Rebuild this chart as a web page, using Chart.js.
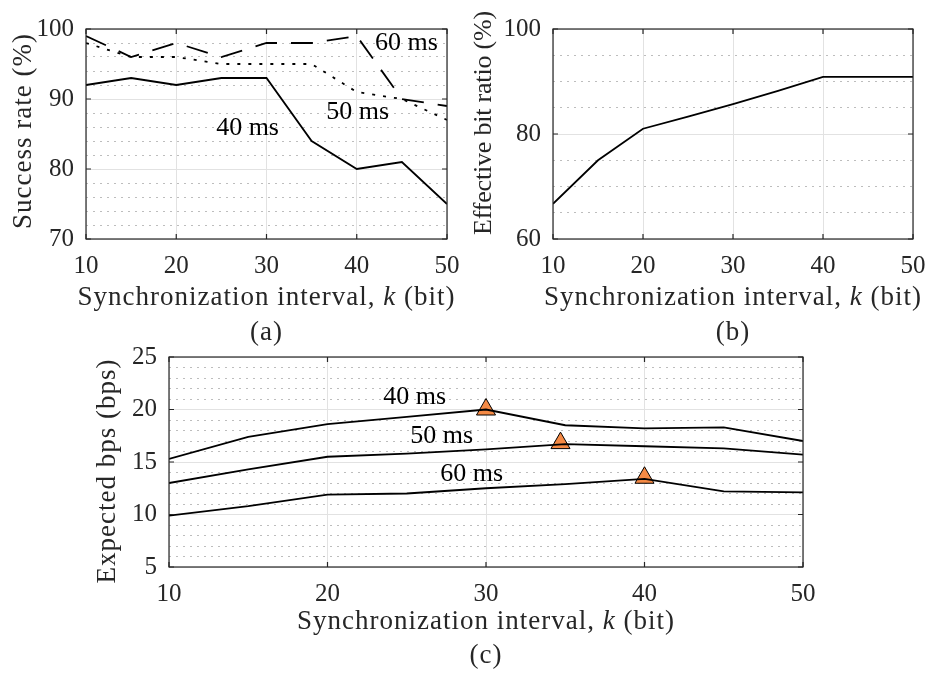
<!DOCTYPE html>
<html>
<head>
<meta charset="utf-8">
<script src="https://cdn.jsdelivr.net/npm/chart.js@4.4.0/dist/chart.umd.min.js"></script>
<style>
  html, body { margin: 0; padding: 0; background: #fff; }
  #wrap { position: relative; width: 930px; height: 675px; overflow: hidden; }
  canvas { position: absolute; }
</style>
</head>
<body>
<div id="wrap">
  <canvas id="chartC" style="left:0;top:330px;width:930px;height:345px" width="930" height="345"></canvas>
  <canvas id="chartA" style="left:0;top:0;width:475px;height:360px" width="475" height="360"></canvas>
  <canvas id="chartB" style="left:465px;top:0;width:480px;height:360px" width="480" height="360"></canvas>
</div>
<script>
// synchronization interval k (bit)
const kValues = [10, 15, 20, 25, 30, 35, 40, 45, 50];
const xTicks = [10, 20, 30, 40, 50];

// (a) success rate (%)
const success40 = [92, 93, 92, 93, 93, 84, 80, 81, 75];
const success50 = [98, 96, 96, 95, 95, 95, 91, 90, 87];
const success60 = [99, 96, 98, 96, 98, 98, 99, 90, 89];
const yTicksA = [70, 80, 90, 100];

// (b) effective bit ratio (%)
const bitRatio = [66.7, 75, 81, 83.3, 85.7, 88.2, 90.9, 90.9, 90.9];
const yTicksB = [60, 80, 100];

// (c) expected bps
const bps40 = [15.3, 17.4, 18.6, 19.3, 20.0, 18.5, 18.2, 18.3, 17.0];
const bps50 = [13.0, 14.3, 15.5, 15.8, 16.2, 16.7, 16.5, 16.3, 15.7];
const bps60 = [9.9, 10.8, 11.9, 12.0, 12.5, 12.9, 13.4, 12.2, 12.1];
const yTicksC = [5, 10, 15, 20, 25];

// best point of each curve (orange triangles)
const peakK = [30, 34.7, 40];
const peakBps = [20.0, 16.8, 13.5];

// curve names written next to the lines
const curveNames = ['40 ms', '50 ms', '60 ms'];
const nameKA = [27.9, 40.1, 45.5];
const nameValA = [85.9, 88.1, 98.0];
const nameKC = [25.5, 27.2, 29.1];
const nameValC = [21.2, 17.5, 13.8];

const FONT = '"Liberation Serif", "Times New Roman", serif';
const INK = '#262626';

const pts = ys => ys.map((y, i) => ({ x: kValues[i], y: y }));
const onStep = (v, step) => v != null && Math.abs(v / step - Math.round(v / step)) < 1e-6;

// frame, inward ticks, curve names and axis titles (MATLAB look)
function makeDecor(cfg) {
  return {
    id: 'decor',
    afterDraw(chart) {
      const { ctx, chartArea: area, scales: { x, y } } = chart;
      ctx.save();
      ctx.strokeStyle = INK;
      ctx.lineWidth = 1.2;
      ctx.strokeRect(area.left, area.top, area.width, area.height);
      ctx.beginPath();
      xTicks.forEach(v => {
        const px = x.getPixelForValue(v);
        ctx.moveTo(px, area.bottom); ctx.lineTo(px, area.bottom - 5);
        ctx.moveTo(px, area.top); ctx.lineTo(px, area.top + 5);
      });
      cfg.yTicks.forEach(v => {
        const py = y.getPixelForValue(v);
        ctx.moveTo(area.left, py); ctx.lineTo(area.left + 5, py);
        ctx.moveTo(area.right, py); ctx.lineTo(area.right - 5, py);
      });
      ctx.stroke();

      ctx.fillStyle = '#000';
      ctx.font = '26px ' + FONT;
      ctx.textAlign = 'center';
      ctx.textBaseline = 'middle';
      (cfg.names || []).forEach((n, i) => {
        ctx.fillText(n, x.getPixelForValue(cfg.nameK[i]), y.getPixelForValue(cfg.nameVal[i]));
      });

      // x title with italic k
      ctx.fillStyle = INK;
      ctx.letterSpacing = '1px';
      const parts = [['Synchronization interval, ', ''], ['k', 'italic '], [' (bit)', '']];
      let total = 0;
      parts.forEach(p => { ctx.font = p[1] + '27px ' + FONT; total += ctx.measureText(p[0]).width; });
      let cx = (area.left + area.right) / 2 - total / 2;
      const ty = area.bottom + cfg.titleGap;
      ctx.textAlign = 'left';
      parts.forEach(p => {
        ctx.font = p[1] + '27px ' + FONT;
        ctx.fillText(p[0], cx, ty);
        cx += ctx.measureText(p[0]).width;
      });
      ctx.font = '27px ' + FONT;
      ctx.textAlign = 'center';
      ctx.fillText(cfg.caption, (area.left + area.right) / 2, area.bottom + cfg.captionGap);

      // y title
      ctx.font = cfg.yTitleSize + 'px ' + FONT;
      ctx.letterSpacing = cfg.yTitleSpacing + 'px';
      ctx.translate(cfg.yTitleX, cfg.yTitleY);
      ctx.rotate(-Math.PI / 2);
      ctx.fillText(cfg.yTitle, 0, 0);
      ctx.restore();
    }
  };
}

function makeOptions(cfg) {
  return {
    responsive: false,
    animation: false,
    devicePixelRatio: 1,
    layout: { padding: { top: cfg.padTop, right: cfg.padRight, left: 0, bottom: 0 } },
    elements: { point: { radius: 0 }, line: { tension: 0, borderColor: '#000', borderWidth: 1.8 } },
    plugins: { legend: { display: false }, tooltip: { enabled: false } },
    scales: {
      x: {
        type: 'linear', min: 10, max: 50,
        afterFit: s => { s.height = cfg.xHeight; },
        ticks: { stepSize: 10, autoSkip: false, maxRotation: 0, padding: 12, color: INK, font: { family: FONT, size: 25 } },
        grid: { drawTicks: false, color: '#e2e2e2', lineWidth: 1 },
        border: { display: false }
      },
      y: {
        type: 'linear', min: cfg.yMin, max: cfg.yMax,
        afterFit: s => { s.width = cfg.yWidth; },
        ticks: {
          stepSize: cfg.minor, autoSkip: false, padding: 12, color: INK,
          font: { family: FONT, size: 25 },
          callback: v => onStep(v, cfg.major) ? v : ''
        },
        grid: {
          drawTicks: false, lineWidth: 1,
          color: c => onStep(c.tick && c.tick.value, cfg.major) ? '#e2e2e2' : '#bdbdbd'
        },
        border: {
          display: false,
          dash: c => (c.tick && !onStep(c.tick.value, cfg.major)) ? [2, 5] : []
        }
      }
    }
  };
}

new Chart(document.getElementById('chartA'), {
  type: 'line',
  data: {
    datasets: [
      { data: pts(success40) },
      { data: pts(success50), borderDash: [3, 8] },
      { data: pts(success60), borderDash: [22, 14] }
    ]
  },
  options: makeOptions({ padTop: 29, padRight: 28, xHeight: 121, yWidth: 86, yMin: 70, yMax: 100, minor: 2, major: 10 }),
  plugins: [makeDecor({
    yTicks: yTicksA, names: curveNames, nameK: nameKA, nameVal: nameValA,
    caption: '(a)', titleGap: 59, captionGap: 94,
    yTitle: 'Success rate (%)', yTitleX: 24, yTitleY: 131, yTitleSize: 27, yTitleSpacing: 1
  })]
});

new Chart(document.getElementById('chartB'), {
  type: 'line',
  data: { datasets: [{ data: pts(bitRatio) }] },
  options: makeOptions({ padTop: 29, padRight: 32, xHeight: 121, yWidth: 88, yMin: 60, yMax: 100, minor: 5, major: 20 }),
  plugins: [makeDecor({
    yTicks: yTicksB,
    caption: '(b)', titleGap: 59, captionGap: 94,
    yTitle: 'Effective bit ratio (%)', yTitleX: 19, yTitleY: 123, yTitleSize: 26, yTitleSpacing: -0.2
  })]
});

new Chart(document.getElementById('chartC'), {
  type: 'line',
  data: {
    datasets: [
      { data: pts(bps40) },
      { data: pts(bps50) },
      { data: pts(bps60) },
      {
        data: peakK.map((k, i) => ({ x: k, y: peakBps[i] })),
        showLine: false, pointStyle: 'triangle', pointRadius: 11,
        pointBackgroundColor: '#F58A45', pointBorderColor: '#000', pointBorderWidth: 1
      }
    ]
  },
  options: makeOptions({ padTop: 27, padRight: 127, xHeight: 108, yWidth: 169, yMin: 5, yMax: 25, minor: 1, major: 5 }),
  plugins: [makeDecor({
    yTicks: yTicksC, names: curveNames, nameK: nameKC, nameVal: nameValC,
    caption: '(c)', titleGap: 55, captionGap: 89,
    yTitle: 'Expected bps (bps)', yTitleX: 108, yTitleY: 141, yTitleSize: 27, yTitleSpacing: 1
  })]
});
</script>
</body>
</html>
